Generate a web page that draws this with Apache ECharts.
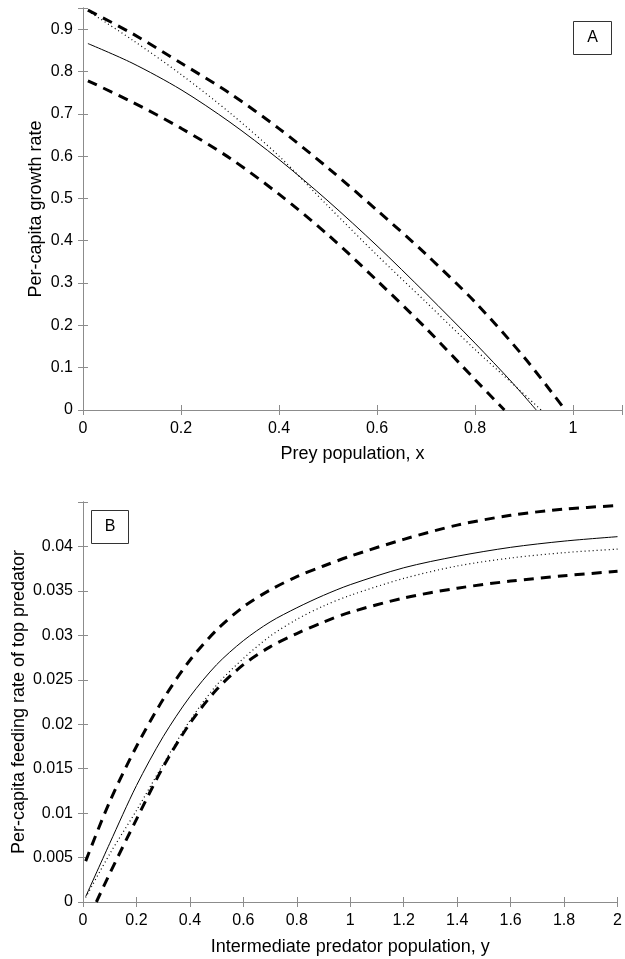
<!DOCTYPE html>
<html><head><meta charset="utf-8">
<script src="https://cdn.jsdelivr.net/npm/echarts@6/dist/echarts.min.js"></script>
<style>html,body{margin:0;padding:0;background:#fff}#c{width:625px;height:959px}</style>
</head><body><div id="c"></div>
<script>
// ---------- Panel A data ----------
const aSolidX = [0.01, 0.1, 0.2, 0.3, 0.4, 0.5, 0.6, 0.7, 0.8, 0.875, 0.925];
const aSolidY = [0.866, 0.82, 0.757, 0.68, 0.592, 0.494, 0.388, 0.275, 0.158, 0.066, 0];
const aDotX = [0.01, 0.1, 0.2, 0.3, 0.4, 0.5, 0.6, 0.7, 0.8, 0.875, 0.935];
const aDotY = [0.943, 0.875, 0.793, 0.702, 0.6, 0.482, 0.366, 0.255, 0.143, 0.064, 0];
const aUpX = [0.01, 0.1, 0.2, 0.3, 0.4, 0.5, 0.6, 0.7, 0.8, 0.9, 0.984];
const aUpY = [0.945, 0.89, 0.82, 0.748, 0.665, 0.572, 0.472, 0.368, 0.255, 0.125, 0];
const aLowX = [0.01, 0.1, 0.2, 0.3, 0.4, 0.5, 0.6, 0.7, 0.8, 0.86];
const aLowY = [0.778, 0.728, 0.666, 0.595, 0.51, 0.414, 0.306, 0.193, 0.072, 0];
const aXTicks = [0, 0.2, 0.4, 0.6, 0.8, 1];
const aXLabels = ['0', '0.2', '0.4', '0.6', '0.8', '1'];
const aYTicks = [0, 0.1, 0.2, 0.3, 0.4, 0.5, 0.6, 0.7, 0.8, 0.9];
const aYLabels = ['0', '0.1', '0.2', '0.3', '0.4', '0.5', '0.6', '0.7', '0.8', '0.9'];

// ---------- Panel B data ----------
const bSolidX = [0.01, 0.1, 0.2, 0.3, 0.4, 0.5, 0.6, 0.7, 0.8, 0.9, 1.0, 1.2, 1.4, 1.6, 1.8, 2.0];
const bSolidY = [0.0006, 0.0066, 0.0131, 0.0186, 0.0231, 0.0267, 0.0294, 0.0315, 0.0331, 0.0345, 0.0357, 0.0376, 0.0389, 0.0399, 0.0406, 0.0411];
const bDotX = [0.01, 0.1, 0.2, 0.3, 0.4, 0.5, 0.6, 0.7, 0.8, 0.9, 1.0, 1.2, 1.4, 1.6, 1.8, 2.0];
const bDotY = [0.0005, 0.0054, 0.0103, 0.0155, 0.0204, 0.0244, 0.0274, 0.0299, 0.0318, 0.0333, 0.0345, 0.0364, 0.0378, 0.0387, 0.0393, 0.0397];
const bUpX = [0.01, 0.1, 0.2, 0.3, 0.4, 0.5, 0.6, 0.7, 0.8, 0.9, 1.0, 1.2, 1.4, 1.6, 1.8, 2.0];
const bUpY = [0.0046, 0.0113, 0.0175, 0.0228, 0.0272, 0.0306, 0.0332, 0.0351, 0.0366, 0.0378, 0.0389, 0.0408, 0.0424, 0.0435, 0.0442, 0.0446];
const bLowX = [0.05, 0.1, 0.2, 0.3, 0.4, 0.5, 0.6, 0.7, 0.8, 0.9, 1.0, 1.2, 1.4, 1.6, 1.8, 2.0];
const bLowY = [0, 0.0032, 0.0093, 0.0152, 0.0201, 0.0239, 0.0267, 0.0287, 0.0302, 0.0315, 0.0326, 0.0342, 0.0353, 0.0361, 0.0367, 0.0372];
const bXTicks = [0, 0.2, 0.4, 0.6, 0.8, 1, 1.2, 1.4, 1.6, 1.8, 2];
const bXLabels = ['0', '0.2', '0.4', '0.6', '0.8', '1', '1.2', '1.4', '1.6', '1.8', '2'];
const bYTicks = [0, 0.005, 0.01, 0.015, 0.02, 0.025, 0.03, 0.035, 0.04];
const bYLabels = ['0', '0.005', '0.01', '0.015', '0.02', '0.025', '0.03', '0.035', '0.04'];

const zip = (xs, ys) => xs.map((x, i) => [x, ys[i]]);
const fmt = (ticks, labels) => v => {
  for (let i = 0; i < ticks.length; i++) if (Math.abs(ticks[i] - v) < 1e-9) return labels[i];
  return '';
};
const FONT = 'Liberation Sans, Arial, Helvetica, sans-serif';
const AX = '#8c8c8c';

function mainAxis(extra) {
  return Object.assign({
    type: 'value',
    axisLine: { show: true, lineStyle: { color: AX, width: 1 } },
    axisTick: { show: true, inside: true, length: 5, lineStyle: { color: AX } },
    splitLine: { show: false },
    nameLocation: 'middle',
    nameMoveOverlap: false,
    nameTextStyle: { fontFamily: FONT, fontSize: 18, color: '#000' }
  }, extra);
}
function mirrorAxis(extra) {
  return Object.assign({
    type: 'value',
    axisLine: { show: true, lineStyle: { color: AX, width: 1 } },
    axisTick: { show: true, inside: true, length: 5, lineStyle: { color: AX } },
    axisLabel: { show: false },
    splitLine: { show: false }
  }, extra);
}
const labelStyle = (t, l, m) => ({ fontFamily: FONT, fontSize: 16, color: '#000', margin: m, formatter: fmt(t, l), showMaxLabel: true });

const dashed = { color: '#000', width: 3, type: [10, 7] };
const dotted = { color: '#000', width: 1.2, type: [1, 3] };
const solid = { color: '#000', width: 1 };
function ser(xi, yi, data, ls) {
  return { type: 'line', xAxisIndex: xi, yAxisIndex: yi, data: data, showSymbol: false, symbol: 'none',
    smooth: 0.3, lineStyle: ls, silent: true, animation: false };
}

const chart = echarts.init(document.getElementById('c'), null, { renderer: 'canvas' });
chart.setOption({
  backgroundColor: '#fff',
  animation: false,
  grid: [
    { left: 83, top: 8, width: 541, height: 402, show: false },
    { left: 83, top: 502, width: 541, height: 400, show: false }
  ],
  xAxis: [
    mainAxis({ gridIndex: 0, min: 0, max: 1.1, interval: 0.2, name: 'Prey population, x', nameGap: 35,
      axisLabel: labelStyle(aXTicks, aXLabels, 11) }),
    mirrorAxis({ gridIndex: 0, position: 'top', min: 0, max: 1.1, interval: 0.2 }),
    mainAxis({ gridIndex: 1, min: 0, max: 2, interval: 0.2, name: 'Intermediate predator population, y', nameGap: 36,
      axisLabel: labelStyle(bXTicks, bXLabels, 11) }),
    mirrorAxis({ gridIndex: 1, position: 'top', min: 0, max: 2, interval: 0.2 })
  ],
  yAxis: [
    mainAxis({ gridIndex: 0, min: 0, max: 0.95, interval: 0.1, name: 'Per-capita growth rate', nameGap: 38,
      axisLabel: labelStyle(aYTicks, aYLabels, 10) }),
    mirrorAxis({ gridIndex: 0, position: 'right', min: 0, max: 0.95, interval: 0.1 }),
    mainAxis({ gridIndex: 1, min: 0, max: 0.045, interval: 0.005, name: 'Per-capita feeding rate of top predator', nameGap: 55,
      axisLabel: labelStyle(bYTicks, bYLabels, 10) }),
    mirrorAxis({ gridIndex: 1, position: 'right', min: 0, max: 0.045, interval: 0.005 })
  ],
  series: [
    ser(0, 0, zip(aUpX, aUpY), dashed),
    ser(0, 0, zip(aLowX, aLowY), dashed),
    ser(0, 0, zip(aDotX, aDotY), dotted),
    ser(0, 0, zip(aSolidX, aSolidY), solid),
    ser(2, 2, zip(bUpX, bUpY), dashed),
    ser(2, 2, zip(bLowX, bLowY), dashed),
    ser(2, 2, zip(bDotX, bDotY), dotted),
    ser(2, 2, zip(bSolidX, bSolidY), solid)
  ],
  graphic: [
    { type: 'rect', shape: { x: 573.5, y: 21.5, width: 38, height: 33 }, style: { fill: '#fff', stroke: '#333', lineWidth: 1 }, z: 100 },
    { type: 'text', x: 592.5, y: 38, style: { text: 'A', fontFamily: FONT, fontSize: 16, fill: '#000', textAlign: 'center', textVerticalAlign: 'middle' }, z: 101 },
    { type: 'rect', shape: { x: 91.5, y: 510.5, width: 37, height: 33 }, style: { fill: '#fff', stroke: '#333', lineWidth: 1 }, z: 100 },
    { type: 'text', x: 110, y: 527, style: { text: 'B', fontFamily: FONT, fontSize: 16, fill: '#000', textAlign: 'center', textVerticalAlign: 'middle' }, z: 101 }
  ]
});
</script></body></html>
